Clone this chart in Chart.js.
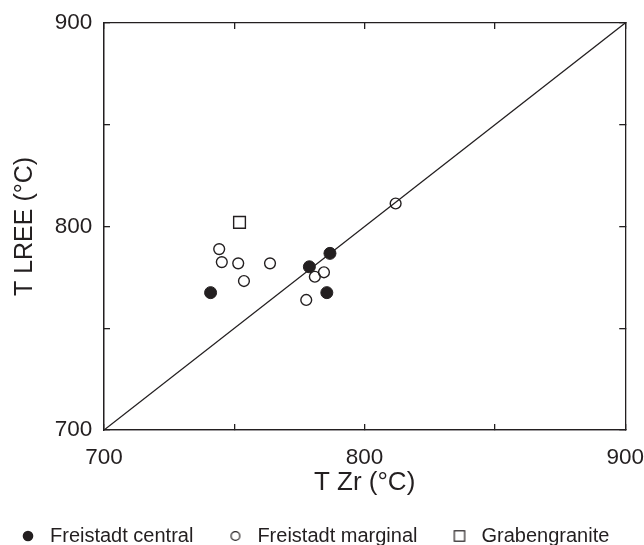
<!DOCTYPE html>
<html>
<head>
<meta charset="utf-8">
<script src="https://cdn.jsdelivr.net/npm/chart.js@4/dist/chart.umd.min.js"></script>
<style>
  html, body { margin: 0; padding: 0; background: #ffffff; }
  #c { display: block; }
</style>
</head>
<body>
<canvas id="c" width="644" height="545"></canvas>
<script>
// ---- data ----
const seriesNames = ["Freistadt central", "Freistadt marginal", "Grabengranite"];

const centralX  = [740.9, 778.8, 786.7, 785.5];
const centralY  = [767.5, 780.2, 786.8, 767.5];

const marginalX = [744.2, 745.2, 751.5, 763.7, 753.7, 780.9, 784.4, 777.6, 811.9];
const marginalY = [788.9, 782.5, 781.9, 781.9, 773.2, 775.3, 777.5, 763.9, 811.3];

const grabenX   = [752.0];
const grabenY   = [802.0];

const refLineX  = [700, 900];
const refLineY  = [700, 900];

const axisMin = 700, axisMax = 900;
const tickStep = 50;          // inward tick marks
const labelStep = 100;        // labelled ticks: 700, 800, 900

const xTitle = "T Zr (°C)";
const yTitle = "T LREE (°C)";

// ---- helpers ----
const INK = "#231f20";
const FONT = "'Liberation Sans', Arial, Helvetica, sans-serif";
const toPts = (xs, ys) => xs.map((x, i) => ({ x: x, y: ys[i] }));

function legendMarker(kind) {
  const c = document.createElement('canvas');
  c.width = 16; c.height = 16;
  const g = c.getContext('2d');
  g.strokeStyle = INK; g.fillStyle = INK; g.lineWidth = 1.2;
  if (kind === 'filled') {
    g.beginPath(); g.arc(8, 8, 5.3, 0, Math.PI * 2); g.fill();
  } else if (kind === 'open') {
    g.beginPath(); g.arc(8, 8, 4.4, 0, Math.PI * 2); g.stroke();
  } else {
    g.strokeRect(2.8, 2.8, 10.4, 10.4);
  }
  return c;
}
const legendImgs = [legendMarker('filled'), legendMarker('open'), legendMarker('square')];

const tickCb = (v) => (v % labelStep === 0 ? String(v) : '');

// frame / inward tick-mark axes (no labels)
const tickAxis = (pos, size, weight) => ({
  type: 'linear', position: pos, min: axisMin, max: axisMax, weight: weight,
  border: { display: true, color: INK, width: 1.3 },
  grid: { display: true, drawOnChartArea: false, drawTicks: true, tickLength: -6, color: INK, lineWidth: 1.3 },
  ticks: { display: false, stepSize: tickStep },
  afterFit: (s) => { if (pos === 'top' || pos === 'bottom') s.height = size; else s.width = size; }
});

const chart = new Chart(document.getElementById('c'), {
  type: 'scatter',
  data: {
    datasets: [
      {
        label: seriesNames[0],
        data: toPts(centralX, centralY),
        pointStyle: 'circle', pointRadius: 6, pointHoverRadius: 6,
        backgroundColor: INK, borderColor: INK, borderWidth: 1
      },
      {
        label: seriesNames[1],
        data: toPts(marginalX, marginalY),
        pointStyle: 'circle', pointRadius: 5.4, pointHoverRadius: 5.4,
        backgroundColor: 'rgba(255,255,255,0)', borderColor: INK, borderWidth: 1.4
      },
      {
        label: seriesNames[2],
        data: toPts(grabenX, grabenY),
        pointStyle: 'rect', pointRadius: 8.3, pointHoverRadius: 8.3,
        backgroundColor: 'rgba(255,255,255,0)', borderColor: INK, borderWidth: 1.4
      },
      {
        label: '1:1',
        data: toPts(refLineX, refLineY),
        showLine: true, pointRadius: 0, pointHoverRadius: 0,
        borderColor: INK, borderWidth: 1.3, backgroundColor: INK
      }
    ]
  },
  options: {
    responsive: false,
    animation: false,
    devicePixelRatio: 1,
    layout: { autoPadding: false, padding: { left: -14, right: 0, top: 23, bottom: -11 } },
    plugins: {
      tooltip: { enabled: false },
      legend: {
        display: true,
        position: 'bottom',
        align: 'start',
        labels: {
          usePointStyle: true,
          pointStyleWidth: 24,
          padding: 30,
          color: INK,
          font: { family: FONT, size: 20 },
          generateLabels: (ch) => seriesNames.map((name, i) => ({
            text: name,
            pointStyle: legendImgs[i],
            fillStyle: INK, strokeStyle: INK, lineWidth: 1,
            fontColor: INK, hidden: false, datasetIndex: i
          }))
        }
      }
    },
    scales: {
      x: {
        type: 'linear', position: 'bottom', min: axisMin, max: axisMax, weight: 0,
        border: { display: true, color: INK, width: 1.3 },
        grid: { display: false, drawTicks: false },
        ticks: { stepSize: tickStep, callback: tickCb, color: INK, padding: 0, maxRotation: 0, autoSkip: false,
                 font: { family: FONT, size: 22.5, lineHeight: 2.49 } },
        title: { display: true, text: xTitle, color: INK, padding: { top: 0, bottom: 0 },
                 font: { family: FONT, size: 26, lineHeight: 1 } },
        afterFit: (s) => { s.height = 66; }
      },
      y: {
        type: 'linear', position: 'left', min: axisMin, max: axisMax, weight: 0,
        border: { display: true, color: INK, width: 1.3 },
        grid: { display: false, drawTicks: false },
        ticks: { stepSize: tickStep, callback: tickCb, color: INK, padding: 11.75, autoSkip: false,
                 font: { family: FONT, size: 22.5, lineHeight: 1 } },
        title: { display: true, text: yTitle, color: INK, padding: { top: 26.5, bottom: 0 },
                 font: { family: FONT, size: 25, lineHeight: 1 } },
        afterFit: (s) => { s.width = 118; }
      },
      xInner: tickAxis('bottom', 0, -1),
      yInner: tickAxis('left', 0, -1),
      x2: tickAxis('top', 0, 0),
      y2: tickAxis('right', 17, 0)
    }
  }
});
</script>
</body>
</html>
